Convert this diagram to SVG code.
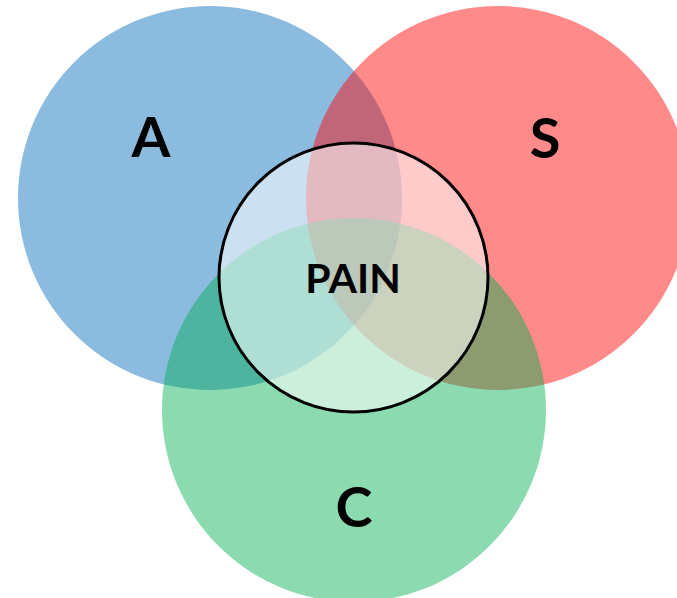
<svg xmlns="http://www.w3.org/2000/svg" width="677" height="598" viewBox="0 0 677 598">
<style>
.lbl{font-family:Lato,"Open Sans","Liberation Sans",sans-serif;font-weight:bold;fill:#000;text-anchor:middle}
</style>
<rect width="677" height="598" fill="#fff"/>
<g id="A"><circle cx="210" cy="198" r="192" fill="#0068BB" fill-opacity="0.45"/><text class="lbl" x="151" y="157" font-size="56">A</text></g>
<g id="S"><circle cx="498" cy="198" r="192" fill="#FF0000" fill-opacity="0.46"/><text class="lbl" x="545" y="158" font-size="56">S</text></g>
<g id="C"><circle cx="354" cy="410" r="192" fill="#00B050" fill-opacity="0.45"/><text class="lbl" x="354" y="527" font-size="56">C</text></g>
<g id="PAIN"><circle cx="353.5" cy="277.5" r="134.5" fill="#fff" fill-opacity="0.55" stroke="#000" stroke-width="3"/><text class="lbl" x="353" y="293" font-size="41">PAIN</text></g>
<g id="connectors"/>
</svg>
